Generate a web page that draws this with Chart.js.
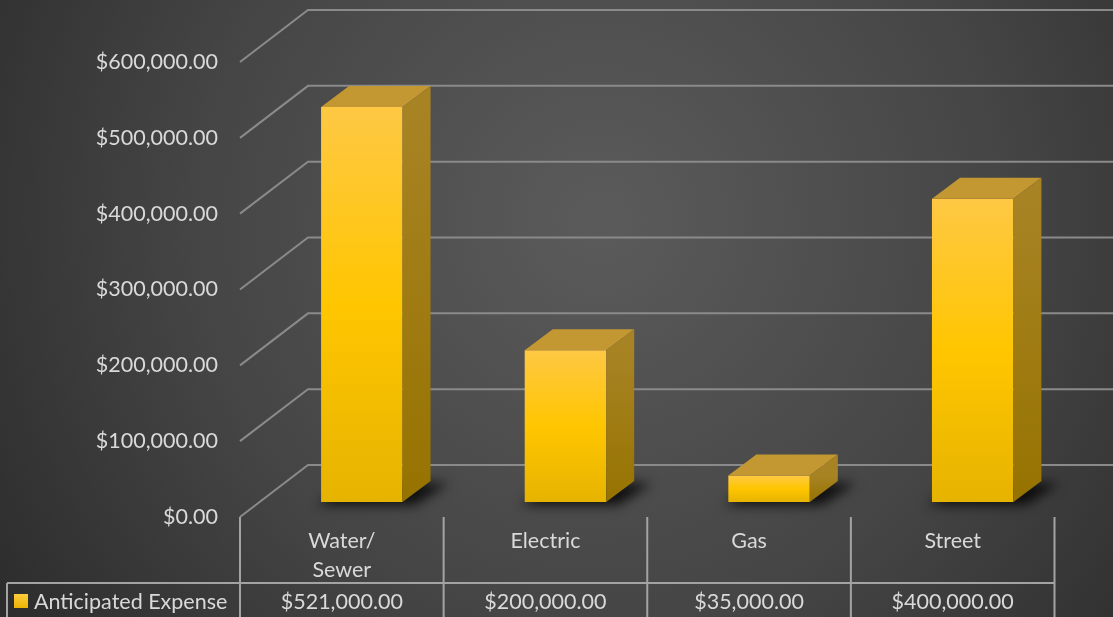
<!DOCTYPE html>
<html>
<head>
<meta charset="utf-8">
<script src="https://cdn.jsdelivr.net/npm/chart.js@4.4.1/dist/chart.umd.min.js"></script>
<style>
  html, body { margin: 0; padding: 0; background: #303030; }
  canvas { display: block; }
</style>
</head>
<body>
<canvas id="expenseChart" width="1113" height="617"></canvas>
<script>
const categories = [['Water/', 'Sewer'], 'Electric', 'Gas', 'Street'];
const seriesName = 'Anticipated Expense';
const expenses = [521000, 200000, 35000, 400000];
const yTicks = [0, 100000, 200000, 300000, 400000, 500000, 600000];

const money = v => '$' + Number(v).toLocaleString('en-US', { minimumFractionDigits: 2, maximumFractionDigits: 2 });

// fake 3D: bars stand a bit behind the front (label) plane, back wall further behind
const SHIFT_X = 20, SHIFT_Y = 15;
const BACK_X = 48, BACK_Y = 37;
const DEPTH_X = 28, DEPTH_Y = 21;
const FONT = 'Lato, "Open Sans", sans-serif';
const FONT_SIZE = 21.5;
const TEXT = '#d9d9d9';
const TABLE_LINE = '#a3a3a3';

const backdrop = {
  id: 'backdrop',
  beforeDraw(chart) {
    const { ctx, width, height } = chart;
    const g = ctx.createRadialGradient(600, 220, 20, 600, 220, 720);
    g.addColorStop(0, '#5a5a5a');
    g.addColorStop(0.55, '#454545');
    g.addColorStop(1, '#2c2c2c');
    ctx.save();
    ctx.fillStyle = g;
    ctx.fillRect(0, 0, width, height);
    ctx.restore();
  }
};

const walls = {
  id: 'walls',
  beforeDatasetsDraw(chart) {
    const { ctx, width, chartArea } = chart;
    const y = chart.scales.y;
    const fx = chartArea.left - SHIFT_X;
    ctx.save();
    ctx.strokeStyle = '#8a8a8a';
    ctx.lineWidth = 2;
    yTicks.forEach(v => {
      const yp = y.getPixelForValue(v);
      ctx.beginPath();
      ctx.moveTo(fx, yp + SHIFT_Y);
      ctx.lineTo(fx + SHIFT_X + BACK_X, yp - BACK_Y);
      ctx.lineTo(width, yp - BACK_Y);
      ctx.stroke();
    });

    // soft shadows under the bars
    ctx.filter = 'blur(6px)';
    ctx.fillStyle = 'rgba(0,0,0,0.8)';
    chart.getDatasetMeta(0).data.forEach(bar => {
      const { x, base, width: w } = bar.getProps(['x', 'base', 'width'], true);
      const l = x - w / 2, r = x + w / 2;
      ctx.beginPath();
      ctx.moveTo(l - 4, base + 3);
      ctx.lineTo(r + 12, base + 3);
      ctx.lineTo(r + DEPTH_X + 18, base - DEPTH_Y + 2);
      ctx.lineTo(l + DEPTH_X, base - DEPTH_Y + 2);
      ctx.closePath();
      ctx.fill();
    });
    ctx.restore();
  }
};

const faces = {
  id: 'faces',
  afterDatasetsDraw(chart) {
    const { ctx } = chart;
    ctx.save();
    chart.getDatasetMeta(0).data.forEach(bar => {
      const { x, y: top, base, width: w } = bar.getProps(['x', 'y', 'base', 'width'], true);
      const l = x - w / 2, r = x + w / 2;
      // top
      ctx.fillStyle = '#c39731';
      ctx.beginPath();
      ctx.moveTo(l, top);
      ctx.lineTo(l + DEPTH_X, top - DEPTH_Y);
      ctx.lineTo(r + DEPTH_X, top - DEPTH_Y);
      ctx.lineTo(r, top);
      ctx.closePath();
      ctx.fill();
      // side
      const sg = ctx.createLinearGradient(0, top, 0, base);
      sg.addColorStop(0, '#a88324');
      sg.addColorStop(1, '#967300');
      ctx.fillStyle = sg;
      ctx.beginPath();
      ctx.moveTo(r, top);
      ctx.lineTo(r + DEPTH_X, top - DEPTH_Y);
      ctx.lineTo(r + DEPTH_X, base - DEPTH_Y);
      ctx.lineTo(r, base);
      ctx.closePath();
      ctx.fill();
    });
    ctx.restore();
  }
};

const dataTable = {
  id: 'dataTable',
  afterDraw(chart) {
    const { ctx } = chart;
    const x = chart.scales.x, y = chart.scales.y;
    const half = (x.getPixelForValue(1) - x.getPixelForValue(0)) / 2;
    const top = y.getPixelForValue(0) + SHIFT_Y;
    const rowY = 583, bottom = 617;
    const firstEdge = x.getPixelForValue(0) - SHIFT_X - half;
    const lastEdge = x.getPixelForValue(categories.length - 1) - SHIFT_X + half;

    ctx.save();
    ctx.strokeStyle = TABLE_LINE;
    ctx.lineWidth = 2;
    ctx.beginPath();
    ctx.moveTo(7, rowY); ctx.lineTo(lastEdge, rowY);
    ctx.moveTo(7, rowY); ctx.lineTo(7, bottom);
    for (let i = 0; i <= categories.length; i++) {
      const ex = firstEdge + i * half * 2;
      ctx.moveTo(ex, top); ctx.lineTo(ex, bottom);
    }
    ctx.stroke();

    ctx.fillStyle = TEXT;
    ctx.font = FONT_SIZE + 'px ' + FONT;
    ctx.textAlign = 'center';
    ctx.textBaseline = 'middle';
    categories.forEach((c, i) => {
      const cx = x.getPixelForValue(i) - SHIFT_X;
      const lines = Array.isArray(c) ? c : [c];
      lines.forEach((ln, k) => ctx.fillText(ln, cx, 541 + k * 29));
      ctx.fillText(money(expenses[i]), cx, 602);
    });

    // legend key
    const kg = ctx.createLinearGradient(0, 594, 0, 609);
    kg.addColorStop(0, '#ffcb3c');
    kg.addColorStop(1, '#e9b400');
    ctx.fillStyle = kg;
    ctx.fillRect(14, 594, 14, 14);
    ctx.fillStyle = TEXT;
    ctx.textAlign = 'left';
    ctx.fillText(seriesName, 34, 602);
    ctx.restore();
  }
};

new Chart(document.getElementById('expenseChart'), {
  type: 'bar',
  data: {
    labels: categories,
    datasets: [{
      label: seriesName,
      data: expenses,
      barPercentage: 0.4,
      categoryPercentage: 1.0,
      backgroundColor(c) {
        const chart = c.chart;
        if (!chart.chartArea || c.type !== 'data') return '#ffc000';
        const y = chart.scales.y;
        const g = chart.ctx.createLinearGradient(0, y.getPixelForValue(c.raw), 0, y.getPixelForValue(0));
        g.addColorStop(0, '#fec844');
        g.addColorStop(0.5, '#ffc600');
        g.addColorStop(1, '#e6b300');
        return g;
      },
      borderWidth: 0
    }]
  },
  options: {
    responsive: false,
    devicePixelRatio: 1,
    animation: false,
    layout: { padding: { left: 0, right: 38.5, top: 47, bottom: 115 } },
    plugins: { legend: { display: false }, tooltip: { enabled: false } },
    scales: {
      x: { display: false },
      y: {
        min: 0,
        max: 600000,
        afterFit(s) {
          s.width = 260;
          // the big label padding should only push labels sideways
          s.paddingTop = 0;
          s.paddingBottom = 0;
        },
        grid: { display: false, drawTicks: false },
        border: { display: false },
        ticks: {
          stepSize: 100000,
          padding: 42,
          labelOffset: 15,
          color: TEXT,
          font: { family: FONT, size: FONT_SIZE },
          callback: v => money(v)
        }
      }
    }
  },
  plugins: [backdrop, walls, faces, dataTable]
});
</script>
</body>
</html>
